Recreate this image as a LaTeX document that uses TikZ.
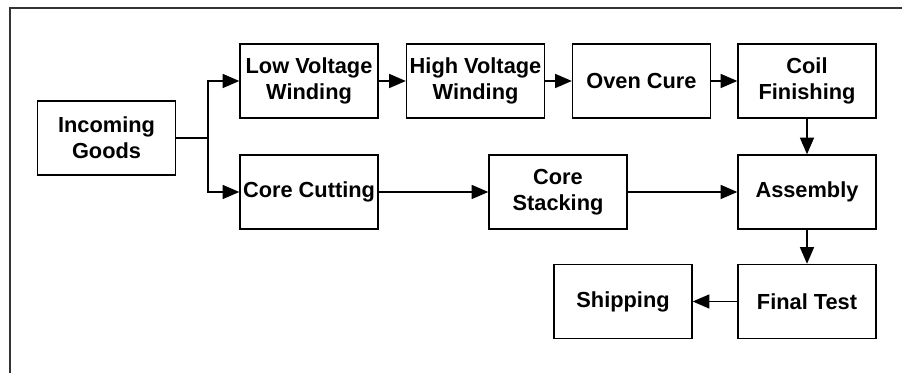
\documentclass[tikz,border=0pt]{standalone}
\usepackage{fontspec}
\setmainfont{Liberation Sans}
\usepackage{tikz}
\usetikzlibrary{arrows.meta,positioning,calc}

\begin{document}
\begin{tikzpicture}[
    stage/.style={draw,line width=0.8pt,rectangle,minimum width=2.76cm,minimum height=1.48cm,align=center,inner sep=1pt,font=\fontsize{12.4}{15}\selectfont\bfseries},
    flow/.style={line width=0.8pt,-{Triangle[length=9.5pt,width=8pt]}}
]
            \useasboundingbox (0,0) rectangle (18.04,7.46);

            % Frame
            \draw[line width=0.8pt,black!80] (0.2,0) -- (0.2,7.30) -- (18.04,7.30);

            % Winding line
            \node[stage] (in) at (2.13,4.70) {Incoming\\Goods};
            \node[stage] (lv) at (6.18,5.84) {Low Voltage\\Winding};
            \node[stage] (hv) at (9.51,5.84) {High Voltage\\Winding};
            \node[stage] (oven) at (12.83,5.84) {Oven Cure};
            \node[stage] (coil) at (16.14,5.84) {Coil\\Finishing};

            % Core line
            \node[stage] (cut) at (6.18,3.62) {Core Cutting};
            \node[stage] (stack) at (11.16,3.62) {Core\\Stacking};
            \node[stage] (asm) at (16.14,3.62) {Assembly};

            % Test and dispatch
            \node[stage] (test) at (16.14,1.43) {Final Test};
            \node[stage] (ship) at (12.46,1.43) {Shipping};

            % Connections
            \coordinate (split) at (4.16,4.70);
            \draw[line width=0.8pt] (in.east) -- (split);
            \draw[flow] (split) |- (lv.west);
            \draw[flow] (split) |- (cut.west);
            \draw[flow] (lv) -- (hv);
            \draw[flow] (hv) -- (oven);
            \draw[flow] (oven) -- (coil);
            \draw[flow] (coil) -- (asm);
            \draw[flow] (cut) -- (stack);
            \draw[flow] (stack) -- (asm);
            \draw[flow] (asm) -- (test);
            \draw[flow] (test) -- (ship);
        \end{tikzpicture}
\end{document}
